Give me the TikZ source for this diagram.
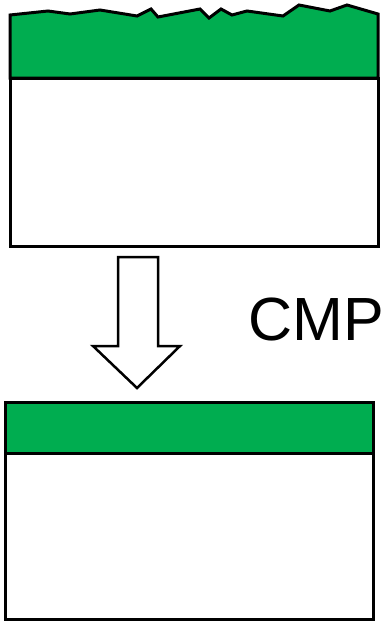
\documentclass[tikz,border=0pt]{standalone}
\usepackage{fontspec}
\setmainfont{Liberation Sans}
\definecolor{film}{RGB}{0,173,80}
\begin{document}
\begin{tikzpicture}[x=1pt,y=-1pt,
  outline/.style={draw=black,line width=3pt,line join=miter},
  filmlayer/.style={outline,fill=film},
  substrate/.style={outline,fill=white}]
\useasboundingbox (0,0) rectangle (386,621);
% top wafer
\draw[substrate] (10,78) rectangle (378,246);
\draw[filmlayer] (10,78) -- (10,15) -- (48,11) -- (70,14) -- (100,10) -- (137,16) -- (151,9) -- (158,17) -- (200,9) -- (209,18) -- (221,9) -- (232,15) -- (247,11) -- (283,16) -- (299,5) -- (330,11) -- (347,5) -- (378,14) -- (378,78) -- cycle;
% arrow
\draw[outline,line width=2.5pt,fill=white] (118,257) -- (158,257) -- (158,346) -- (180,346) -- (137,388) -- (93,346) -- (118,346) -- cycle;
\node[anchor=base,font=\fontsize{61}{64}\selectfont,inner sep=0pt] (cmp) at (316,340) {CMP};
% bottom wafer
\draw[substrate] (5,453) rectangle (373,619);
\draw[filmlayer] (5,402) rectangle (373,453);
\end{tikzpicture}
\end{document}
